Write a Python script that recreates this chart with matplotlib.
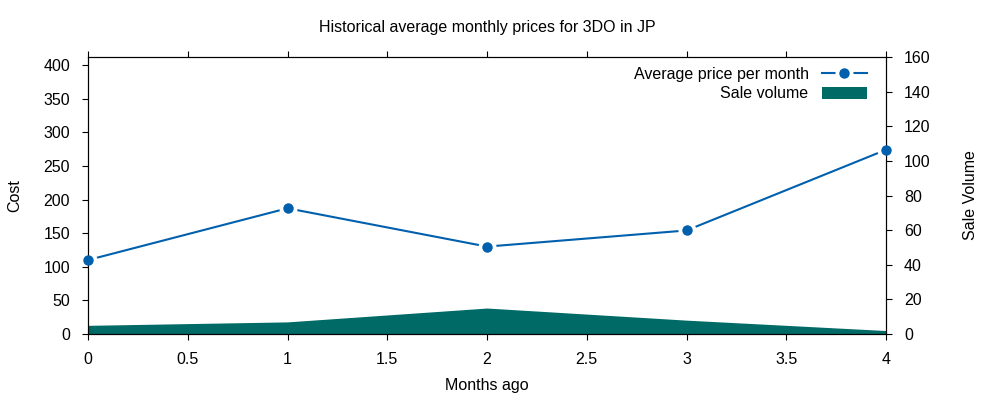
import matplotlib
matplotlib.use('Agg')
import matplotlib.pyplot as plt
from matplotlib.lines import Line2D
from matplotlib.legend_handler import HandlerTuple

plt.rcParams['font.family'] = ['Liberation Sans', 'DejaVu Sans']

months = [0, 1, 2, 3, 4]
prices = [110, 187, 130, 154, 274]
volume = [5, 7, 15, 8, 2]

blue = '#0060ad'
teal = '#006a66'
fs = 11.5

fig = plt.figure(figsize=(10, 4), dpi=100)
ax = fig.add_axes([0.088, 0.165, 0.798, 0.6925])
ax2 = ax.twinx()

# volume area on right axis
ax2.fill_between(months, volume, 0, color=teal, lw=0)
ax2.set_ylim(0, 160)
ax2.set_yticks(range(0, 161, 20))
ax2.set_ylabel('Sale Volume', fontsize=fs, labelpad=23)

# price line on top, gaps around points like gnuplot
ax.set_zorder(ax2.get_zorder() + 1)
ax.patch.set_visible(False)
ax.plot(months, prices, color=blue, lw=1.5, zorder=2)
ax.plot(months, prices, ls='none', marker='o', ms=13, color='white', mew=0, zorder=2.2)
ax.plot(months, prices, ls='none', marker='o', ms=7.5, color=blue, mew=0,
        zorder=3, clip_on=False)
ax.set_xlim(0, 4)
ax.set_ylim(0, 412)
ax.set_yticks(range(0, 401, 50))
ax.set_xticks([0, 0.5, 1, 1.5, 2, 2.5, 3, 3.5, 4])
ax.set_xticklabels(['0', '0.5', '1', '1.5', '2', '2.5', '3', '3.5', '4'])
ax.set_xlabel('Months ago', fontsize=fs, labelpad=8)
ax.set_ylabel('Cost', fontsize=fs, labelpad=15)
ax.set_title('Historical average monthly prices for 3DO in JP', fontsize=fs, pad=18)

ax.tick_params(axis='x', direction='out', top=True, labelsize=fs, length=4, pad=9)
ax.tick_params(axis='y', direction='out', labelsize=fs, length=4, pad=9)
ax2.tick_params(axis='y', direction='out', labelsize=fs, length=4, pad=9)

# legend
h_price = (Line2D([], [], color=blue, lw=1.5),
           Line2D([], [], ls='none', marker='o', ms=13, color='white', mew=0),
           Line2D([], [], ls='none', marker='o', ms=7.5, color=blue, mew=0))
h_vol = plt.Rectangle((0, 0), 1, 1, color=teal, lw=0)
leg = ax.legend([h_price, h_vol], ['Average price per month', 'Sale volume'],
                handler_map={tuple: HandlerTuple(ndivide=1, pad=0)},
                loc='upper right', frameon=False, fontsize=fs,
                markerfirst=False, handlelength=2.8, handleheight=0.8,
                handletextpad=0.85, borderaxespad=0.2, labelspacing=0.3,
                bbox_to_anchor=(0.988, 1.0))

plt.savefig('out.png')
